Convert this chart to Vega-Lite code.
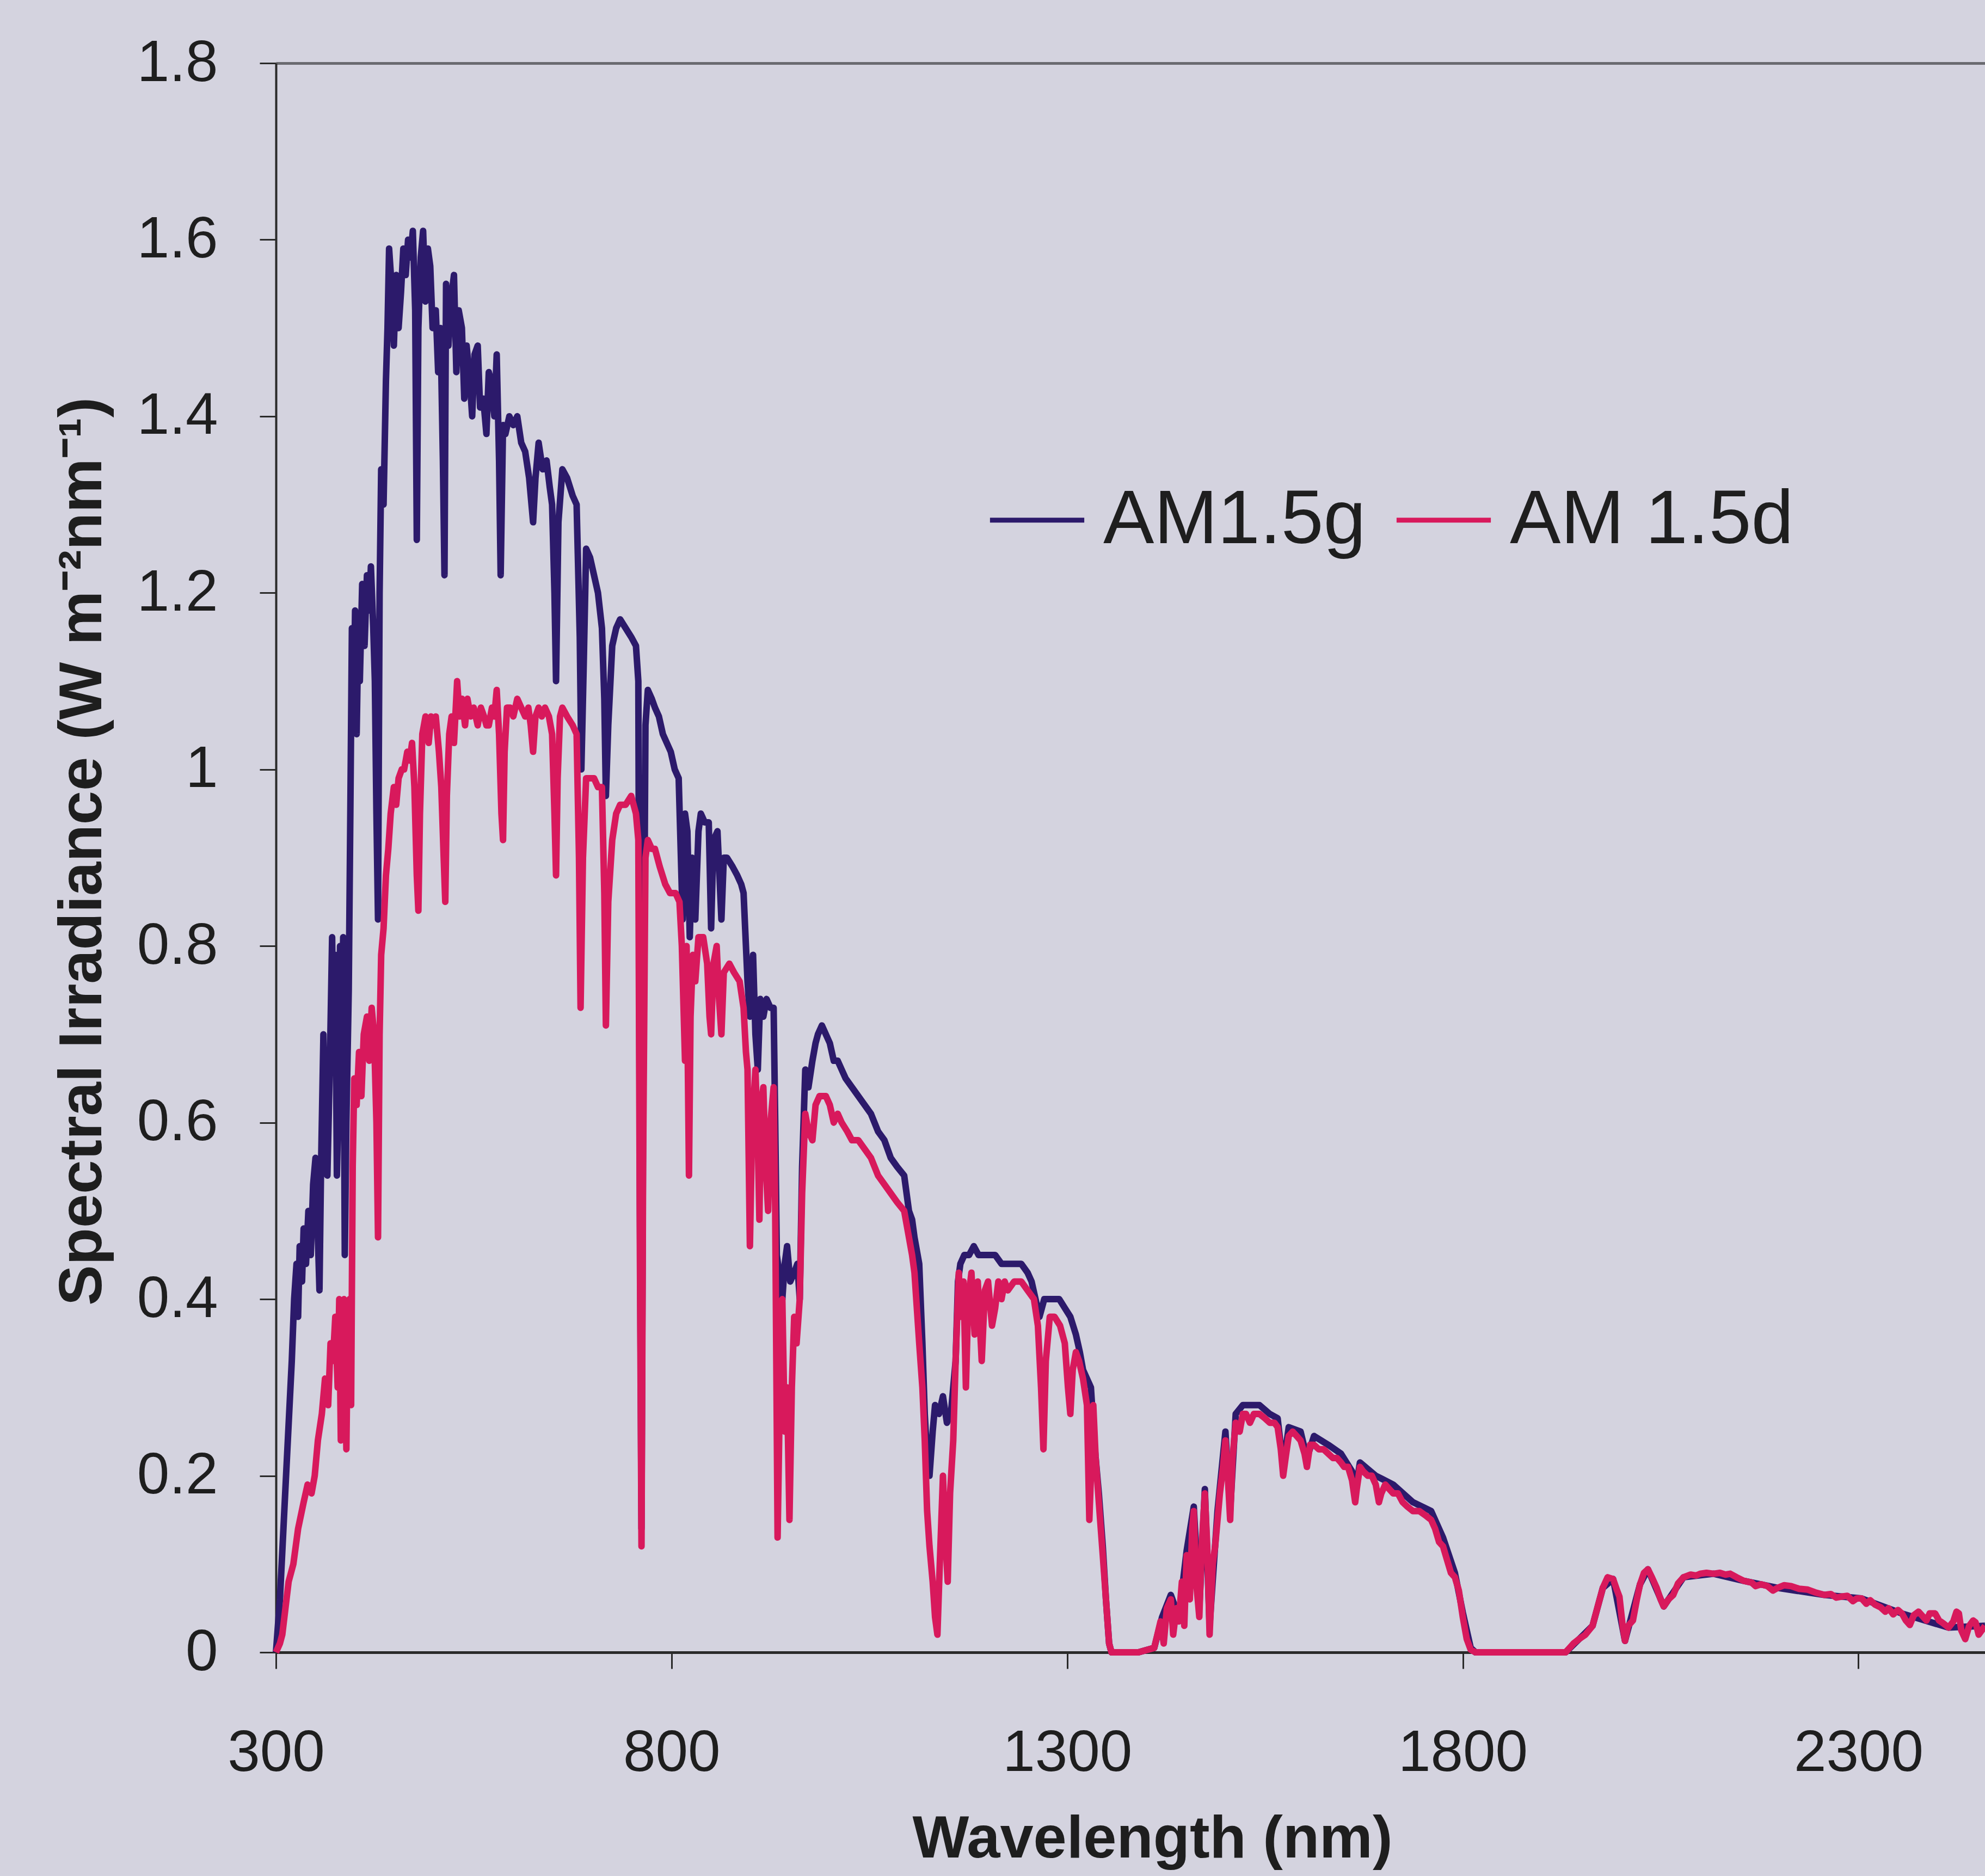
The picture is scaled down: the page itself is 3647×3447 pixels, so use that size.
{
"$schema": "https://vega.github.io/schema/vega-lite/v6.json",
"width": 3140, "height": 2920,
"autosize": {"type": "none"},
"padding": {"left": 507, "top": 116, "right": 0, "bottom": 411},
"background": "#d4d3df",
"config": {"view": {"stroke": null}, "font": "Liberation Sans"},
"datasets": {"g": [
{"wl":300,"irr":0},{"wl":305,"irr":0.06},{"wl":310,"irr":0.15},{"wl":315,"irr":0.24},{"wl":320,"irr":0.33},{"wl":323,"irr":0.40},{"wl":326,"irr":0.44},{"wl":328,"irr":0.38},{"wl":330,"irr":0.46},{"wl":333,"irr":0.42},{"wl":335,"irr":0.48},{"wl":338,"irr":0.44},{"wl":341,"irr":0.50},{"wl":344,"irr":0.45},{"wl":347,"irr":0.53},{"wl":350,"irr":0.56},{"wl":353,"irr":0.47},{"wl":355,"irr":0.41},{"wl":357,"irr":0.55},{"wl":360,"irr":0.70},{"wl":362,"irr":0.58},{"wl":365,"irr":0.54},{"wl":368,"irr":0.66},{"wl":371,"irr":0.81},{"wl":373,"irr":0.66},{"wl":375,"irr":0.79},{"wl":377,"irr":0.54},{"wl":379,"irr":0.62},{"wl":381,"irr":0.80},{"wl":383,"irr":0.70},{"wl":385,"irr":0.81},{"wl":387,"irr":0.45},{"wl":389,"irr":0.60},{"wl":392,"irr":0.75},{"wl":394,"irr":0.95},{"wl":396,"irr":1.16},{"wl":398,"irr":1.05},{"wl":400,"irr":1.18},{"wl":402,"irr":1.04},{"wl":404,"irr":1.15},{"wl":406,"irr":1.10},{"wl":409,"irr":1.21},{"wl":412,"irr":1.14},{"wl":415,"irr":1.22},{"wl":418,"irr":1.18},{"wl":420,"irr":1.23},{"wl":423,"irr":1.16},{"wl":425,"irr":1.10},{"wl":427,"irr":0.95},{"wl":429,"irr":0.83},{"wl":431,"irr":1.20},{"wl":433,"irr":1.34},{"wl":436,"irr":1.30},{"wl":439,"irr":1.44},{"wl":441,"irr":1.50},{"wl":443,"irr":1.59},{"wl":446,"irr":1.55},{"wl":449,"irr":1.48},{"wl":452,"irr":1.56},{"wl":455,"irr":1.50},{"wl":458,"irr":1.54},{"wl":461,"irr":1.59},{"wl":464,"irr":1.56},{"wl":467,"irr":1.60},{"wl":470,"irr":1.58},{"wl":473,"irr":1.61},{"wl":476,"irr":1.52},{"wl":478,"irr":1.26},{"wl":480,"irr":1.50},{"wl":483,"irr":1.58},{"wl":486,"irr":1.61},{"wl":489,"irr":1.53},{"wl":492,"irr":1.59},{"wl":495,"irr":1.57},{"wl":498,"irr":1.50},{"wl":502,"irr":1.52},{"wl":505,"irr":1.45},{"wl":508,"irr":1.50},{"wl":511,"irr":1.35},{"wl":513,"irr":1.22},{"wl":515,"irr":1.55},{"wl":518,"irr":1.48},{"wl":521,"irr":1.53},{"wl":525,"irr":1.56},{"wl":528,"irr":1.45},{"wl":531,"irr":1.52},{"wl":535,"irr":1.50},{"wl":538,"irr":1.42},{"wl":541,"irr":1.48},{"wl":545,"irr":1.44},{"wl":548,"irr":1.40},{"wl":551,"irr":1.47},{"wl":555,"irr":1.48},{"wl":558,"irr":1.41},{"wl":562,"irr":1.42},{"wl":566,"irr":1.38},{"wl":569,"irr":1.45},{"wl":572,"irr":1.44},{"wl":576,"irr":1.40},{"wl":579,"irr":1.47},{"wl":582,"irr":1.35},{"wl":584,"irr":1.22},{"wl":587,"irr":1.39},{"wl":590,"irr":1.38},{"wl":595,"irr":1.40},{"wl":600,"irr":1.39},{"wl":605,"irr":1.40},{"wl":610,"irr":1.37},{"wl":615,"irr":1.36},{"wl":620,"irr":1.33},{"wl":625,"irr":1.28},{"wl":628,"irr":1.33},{"wl":632,"irr":1.37},{"wl":637,"irr":1.34},{"wl":642,"irr":1.35},{"wl":646,"irr":1.32},{"wl":649,"irr":1.30},{"wl":652,"irr":1.20},{"wl":654,"irr":1.10},{"wl":657,"irr":1.28},{"wl":662,"irr":1.34},{"wl":668,"irr":1.33},{"wl":675,"irr":1.31},{"wl":680,"irr":1.30},{"wl":684,"irr":1.15},{"wl":686,"irr":1.00},{"wl":689,"irr":1.12},{"wl":692,"irr":1.25},{"wl":697,"irr":1.24},{"wl":702,"irr":1.22},{"wl":707,"irr":1.20},{"wl":712,"irr":1.16},{"wl":715,"irr":1.08},{"wl":717,"irr":0.97},{"wl":720,"irr":1.05},{"wl":725,"irr":1.14},{"wl":730,"irr":1.16},{"wl":735,"irr":1.17},{"wl":742,"irr":1.16},{"wl":749,"irr":1.15},{"wl":755,"irr":1.14},{"wl":758,"irr":1.10},{"wl":760,"irr":0.50},{"wl":762,"irr":0.14},{"wl":764,"irr":0.60},{"wl":767,"irr":1.05},{"wl":770,"irr":1.09},{"wl":775,"irr":1.08},{"wl":779,"irr":1.07},{"wl":784,"irr":1.06},{"wl":789,"irr":1.04},{"wl":794,"irr":1.03},{"wl":799,"irr":1.02},{"wl":804,"irr":1.00},{"wl":809,"irr":0.99},{"wl":814,"irr":0.83},{"wl":817,"irr":0.95},{"wl":820,"irr":0.93},{"wl":823,"irr":0.81},{"wl":826,"irr":0.90},{"wl":830,"irr":0.83},{"wl":834,"irr":0.93},{"wl":837,"irr":0.95},{"wl":842,"irr":0.94},{"wl":847,"irr":0.94},{"wl":850,"irr":0.82},{"wl":853,"irr":0.92},{"wl":858,"irr":0.93},{"wl":863,"irr":0.83},{"wl":866,"irr":0.90},{"wl":870,"irr":0.90},{"wl":877,"irr":0.89},{"wl":883,"irr":0.88},{"wl":888,"irr":0.87},{"wl":891,"irr":0.86},{"wl":894,"irr":0.80},{"wl":896,"irr":0.76},{"wl":899,"irr":0.72},{"wl":903,"irr":0.79},{"wl":906,"irr":0.70},{"wl":909,"irr":0.66},{"wl":912,"irr":0.74},{"wl":916,"irr":0.72},{"wl":920,"irr":0.74},{"wl":925,"irr":0.73},{"wl":929,"irr":0.73},{"wl":931,"irr":0.60},{"wl":933,"irr":0.45},{"wl":936,"irr":0.43},{"wl":940,"irr":0.40},{"wl":943,"irr":0.44},{"wl":946,"irr":0.46},{"wl":950,"irr":0.42},{"wl":955,"irr":0.43},{"wl":959,"irr":0.44},{"wl":962,"irr":0.40},{"wl":965,"irr":0.55},{"wl":969,"irr":0.66},{"wl":973,"irr":0.64},{"wl":978,"irr":0.67},{"wl":982,"irr":0.69},{"wl":985,"irr":0.70},{"wl":990,"irr":0.71},{"wl":995,"irr":0.70},{"wl":1000,"irr":0.69},{"wl":1005,"irr":0.67},{"wl":1010,"irr":0.67},{"wl":1015,"irr":0.66},{"wl":1020,"irr":0.65},{"wl":1028,"irr":0.64},{"wl":1036,"irr":0.63},{"wl":1044,"irr":0.62},{"wl":1052,"irr":0.61},{"wl":1061,"irr":0.59},{"wl":1069,"irr":0.58},{"wl":1077,"irr":0.56},{"wl":1085,"irr":0.55},{"wl":1094,"irr":0.54},{"wl":1100,"irr":0.50},{"wl":1104,"irr":0.49},{"wl":1107,"irr":0.47},{"wl":1111,"irr":0.45},{"wl":1113,"irr":0.44},{"wl":1117,"irr":0.35},{"wl":1120,"irr":0.27},{"wl":1123,"irr":0.22},{"wl":1126,"irr":0.20},{"wl":1130,"irr":0.25},{"wl":1133,"irr":0.28},{"wl":1138,"irr":0.27},{"wl":1143,"irr":0.29},{"wl":1148,"irr":0.26},{"wl":1153,"irr":0.27},{"wl":1156,"irr":0.30},{"wl":1159,"irr":0.33},{"wl":1162,"irr":0.42},{"wl":1165,"irr":0.44},{"wl":1170,"irr":0.45},{"wl":1176,"irr":0.45},{"wl":1182,"irr":0.46},{"wl":1188,"irr":0.45},{"wl":1192,"irr":0.45},{"wl":1200,"irr":0.45},{"wl":1209,"irr":0.45},{"wl":1217,"irr":0.44},{"wl":1225,"irr":0.44},{"wl":1233,"irr":0.44},{"wl":1242,"irr":0.44},{"wl":1250,"irr":0.43},{"wl":1255,"irr":0.42},{"wl":1260,"irr":0.40},{"wl":1265,"irr":0.38},{"wl":1268,"irr":0.39},{"wl":1271,"irr":0.40},{"wl":1278,"irr":0.40},{"wl":1284,"irr":0.40},{"wl":1290,"irr":0.40},{"wl":1297,"irr":0.39},{"wl":1304,"irr":0.38},{"wl":1311,"irr":0.36},{"wl":1316,"irr":0.34},{"wl":1320,"irr":0.32},{"wl":1325,"irr":0.31},{"wl":1330,"irr":0.30},{"wl":1335,"irr":0.23},{"wl":1340,"irr":0.18},{"wl":1345,"irr":0.12},{"wl":1349,"irr":0.06},{"wl":1353,"irr":0.01},{"wl":1356,"irr":0},{"wl":1390,"irr":0},{"wl":1410,"irr":0.005},{"wl":1420,"irr":0.04},{"wl":1431,"irr":0.065},{"wl":1441,"irr":0.04},{"wl":1451,"irr":0.115},{"wl":1460,"irr":0.165},{"wl":1467,"irr":0.05},{"wl":1474,"irr":0.185},{"wl":1480,"irr":0.03},{"wl":1490,"irr":0.16},{"wl":1500,"irr":0.25},{"wl":1506,"irr":0.16},{"wl":1513,"irr":0.27},{"wl":1522,"irr":0.28},{"wl":1530,"irr":0.28},{"wl":1543,"irr":0.28},{"wl":1556,"irr":0.27},{"wl":1566,"irr":0.265},{"wl":1573,"irr":0.21},{"wl":1580,"irr":0.255},{"wl":1595,"irr":0.25},{"wl":1603,"irr":0.22},{"wl":1612,"irr":0.245},{"wl":1630,"irr":0.235},{"wl":1646,"irr":0.225},{"wl":1660,"irr":0.205},{"wl":1664,"irr":0.18},{"wl":1670,"irr":0.215},{"wl":1690,"irr":0.20},{"wl":1712,"irr":0.19},{"wl":1737,"irr":0.17},{"wl":1760,"irr":0.16},{"wl":1775,"irr":0.13},{"wl":1790,"irr":0.09},{"wl":1800,"irr":0.045},{"wl":1810,"irr":0.005},{"wl":1816,"irr":0},{"wl":1930,"irr":0},{"wl":1947,"irr":0.015},{"wl":1964,"irr":0.03},{"wl":1977,"irr":0.073},{"wl":1990,"irr":0.083},{"wl":2005,"irr":0.013},{"wl":2024,"irr":0.077},{"wl":2034,"irr":0.094},{"wl":2054,"irr":0.052},{"wl":2079,"irr":0.085},{"wl":2117,"irr":0.089},{"wl":2155,"irr":0.081},{"wl":2198,"irr":0.073},{"wl":2257,"irr":0.065},{"wl":2304,"irr":0.061},{"wl":2355,"irr":0.044},{"wl":2414,"irr":0.028},{"wl":2460,"irr":0.03}
],
"d": [
{"wl":300,"irr":0},{"wl":305,"irr":0.01},{"wl":308,"irr":0.02},{"wl":312,"irr":0.05},{"wl":316,"irr":0.08},{"wl":322,"irr":0.10},{"wl":328,"irr":0.14},{"wl":335,"irr":0.17},{"wl":340,"irr":0.19},{"wl":345,"irr":0.18},{"wl":349,"irr":0.20},{"wl":353,"irr":0.24},{"wl":358,"irr":0.27},{"wl":362,"irr":0.31},{"wl":366,"irr":0.28},{"wl":369,"irr":0.35},{"wl":372,"irr":0.33},{"wl":375,"irr":0.38},{"wl":378,"irr":0.30},{"wl":380,"irr":0.40},{"wl":382,"irr":0.24},{"wl":384,"irr":0.36},{"wl":386,"irr":0.40},{"wl":389,"irr":0.23},{"wl":391,"irr":0.38},{"wl":393,"irr":0.40},{"wl":395,"irr":0.28},{"wl":397,"irr":0.55},{"wl":399,"irr":0.65},{"wl":402,"irr":0.62},{"wl":405,"irr":0.68},{"wl":408,"irr":0.63},{"wl":411,"irr":0.70},{"wl":415,"irr":0.72},{"wl":418,"irr":0.67},{"wl":421,"irr":0.73},{"wl":424,"irr":0.70},{"wl":427,"irr":0.60},{"wl":429,"irr":0.47},{"wl":431,"irr":0.70},{"wl":433,"irr":0.79},{"wl":436,"irr":0.82},{"wl":439,"irr":0.88},{"wl":442,"irr":0.91},{"wl":445,"irr":0.95},{"wl":449,"irr":0.98},{"wl":452,"irr":0.96},{"wl":455,"irr":0.99},{"wl":459,"irr":1.00},{"wl":462,"irr":1.00},{"wl":466,"irr":1.02},{"wl":469,"irr":1.01},{"wl":472,"irr":1.03},{"wl":475,"irr":0.98},{"wl":478,"irr":0.88},{"wl":480,"irr":0.84},{"wl":482,"irr":0.95},{"wl":485,"irr":1.04},{"wl":489,"irr":1.06},{"wl":493,"irr":1.03},{"wl":496,"irr":1.06},{"wl":499,"irr":1.05},{"wl":502,"irr":1.06},{"wl":506,"irr":1.02},{"wl":509,"irr":0.98},{"wl":512,"irr":0.90},{"wl":514,"irr":0.85},{"wl":516,"irr":0.97},{"wl":519,"irr":1.04},{"wl":522,"irr":1.06},{"wl":525,"irr":1.03},{"wl":529,"irr":1.10},{"wl":532,"irr":1.06},{"wl":535,"irr":1.08},{"wl":539,"irr":1.05},{"wl":542,"irr":1.08},{"wl":546,"irr":1.06},{"wl":550,"irr":1.07},{"wl":555,"irr":1.05},{"wl":559,"irr":1.07},{"wl":563,"irr":1.06},{"wl":566,"irr":1.05},{"wl":569,"irr":1.05},{"wl":573,"irr":1.07},{"wl":576,"irr":1.06},{"wl":579,"irr":1.09},{"wl":582,"irr":1.04},{"wl":585,"irr":0.95},{"wl":587,"irr":0.92},{"wl":589,"irr":1.02},{"wl":592,"irr":1.07},{"wl":596,"irr":1.07},{"wl":600,"irr":1.06},{"wl":605,"irr":1.08},{"wl":610,"irr":1.07},{"wl":615,"irr":1.06},{"wl":619,"irr":1.07},{"wl":622,"irr":1.05},{"wl":625,"irr":1.02},{"wl":628,"irr":1.06},{"wl":632,"irr":1.07},{"wl":636,"irr":1.06},{"wl":640,"irr":1.07},{"wl":645,"irr":1.06},{"wl":649,"irr":1.04},{"wl":652,"irr":0.95},{"wl":654,"irr":0.88},{"wl":656,"irr":0.99},{"wl":659,"irr":1.06},{"wl":662,"irr":1.07},{"wl":668,"irr":1.06},{"wl":675,"irr":1.05},{"wl":680,"irr":1.04},{"wl":683,"irr":0.90},{"wl":685,"irr":0.73},{"wl":688,"irr":0.90},{"wl":692,"irr":0.99},{"wl":697,"irr":0.99},{"wl":702,"irr":0.99},{"wl":707,"irr":0.98},{"wl":712,"irr":0.98},{"wl":715,"irr":0.86},{"wl":717,"irr":0.71},{"wl":720,"irr":0.85},{"wl":725,"irr":0.92},{"wl":730,"irr":0.95},{"wl":735,"irr":0.96},{"wl":742,"irr":0.96},{"wl":749,"irr":0.97},{"wl":755,"irr":0.95},{"wl":758,"irr":0.92},{"wl":760,"irr":0.45},{"wl":762,"irr":0.12},{"wl":764,"irr":0.55},{"wl":767,"irr":0.90},{"wl":770,"irr":0.92},{"wl":775,"irr":0.91},{"wl":779,"irr":0.91},{"wl":785,"irr":0.89},{"wl":792,"irr":0.87},{"wl":798,"irr":0.86},{"wl":805,"irr":0.86},{"wl":810,"irr":0.85},{"wl":813,"irr":0.80},{"wl":817,"irr":0.67},{"wl":819,"irr":0.80},{"wl":822,"irr":0.54},{"wl":824,"irr":0.72},{"wl":827,"irr":0.79},{"wl":830,"irr":0.76},{"wl":834,"irr":0.81},{"wl":840,"irr":0.81},{"wl":845,"irr":0.78},{"wl":848,"irr":0.72},{"wl":850,"irr":0.70},{"wl":853,"irr":0.78},{"wl":857,"irr":0.80},{"wl":860,"irr":0.74},{"wl":863,"irr":0.70},{"wl":866,"irr":0.77},{"wl":873,"irr":0.78},{"wl":879,"irr":0.77},{"wl":886,"irr":0.76},{"wl":891,"irr":0.73},{"wl":894,"irr":0.68},{"wl":896,"irr":0.66},{"wl":899,"irr":0.46},{"wl":902,"irr":0.60},{"wl":906,"irr":0.66},{"wl":909,"irr":0.58},{"wl":911,"irr":0.49},{"wl":913,"irr":0.62},{"wl":916,"irr":0.64},{"wl":919,"irr":0.55},{"wl":922,"irr":0.50},{"wl":925,"irr":0.60},{"wl":929,"irr":0.64},{"wl":931,"irr":0.50},{"wl":934,"irr":0.13},{"wl":937,"irr":0.30},{"wl":940,"irr":0.40},{"wl":943,"irr":0.25},{"wl":946,"irr":0.30},{"wl":949,"irr":0.15},{"wl":952,"irr":0.30},{"wl":955,"irr":0.38},{"wl":958,"irr":0.35},{"wl":962,"irr":0.40},{"wl":965,"irr":0.52},{"wl":969,"irr":0.61},{"wl":973,"irr":0.59},{"wl":978,"irr":0.58},{"wl":982,"irr":0.62},{"wl":987,"irr":0.63},{"wl":991,"irr":0.63},{"wl":995,"irr":0.63},{"wl":1000,"irr":0.62},{"wl":1005,"irr":0.60},{"wl":1010,"irr":0.61},{"wl":1015,"irr":0.60},{"wl":1022,"irr":0.59},{"wl":1028,"irr":0.58},{"wl":1036,"irr":0.58},{"wl":1044,"irr":0.57},{"wl":1052,"irr":0.56},{"wl":1061,"irr":0.54},{"wl":1069,"irr":0.53},{"wl":1077,"irr":0.52},{"wl":1085,"irr":0.51},{"wl":1094,"irr":0.50},{"wl":1100,"irr":0.47},{"wl":1104,"irr":0.45},{"wl":1107,"irr":0.43},{"wl":1110,"irr":0.39},{"wl":1113,"irr":0.35},{"wl":1117,"irr":0.30},{"wl":1120,"irr":0.24},{"wl":1123,"irr":0.16},{"wl":1126,"irr":0.12},{"wl":1130,"irr":0.08},{"wl":1133,"irr":0.04},{"wl":1136,"irr":0.02},{"wl":1139,"irr":0.10},{"wl":1143,"irr":0.20},{"wl":1146,"irr":0.13},{"wl":1149,"irr":0.08},{"wl":1152,"irr":0.18},{"wl":1156,"irr":0.24},{"wl":1159,"irr":0.33},{"wl":1163,"irr":0.43},{"wl":1166,"irr":0.38},{"wl":1169,"irr":0.42},{"wl":1172,"irr":0.30},{"wl":1175,"irr":0.40},{"wl":1179,"irr":0.43},{"wl":1183,"irr":0.36},{"wl":1187,"irr":0.42},{"wl":1192,"irr":0.33},{"wl":1196,"irr":0.41},{"wl":1200,"irr":0.42},{"wl":1205,"irr":0.37},{"wl":1209,"irr":0.39},{"wl":1213,"irr":0.42},{"wl":1217,"irr":0.40},{"wl":1221,"irr":0.42},{"wl":1225,"irr":0.41},{"wl":1233,"irr":0.42},{"wl":1242,"irr":0.42},{"wl":1250,"irr":0.41},{"wl":1258,"irr":0.40},{"wl":1263,"irr":0.37},{"wl":1267,"irr":0.30},{"wl":1270,"irr":0.23},{"wl":1273,"irr":0.33},{"wl":1278,"irr":0.38},{"wl":1284,"irr":0.38},{"wl":1291,"irr":0.37},{"wl":1297,"irr":0.35},{"wl":1301,"irr":0.30},{"wl":1304,"irr":0.27},{"wl":1307,"irr":0.32},{"wl":1311,"irr":0.34},{"wl":1315,"irr":0.33},{"wl":1320,"irr":0.31},{"wl":1325,"irr":0.28},{"wl":1328,"irr":0.15},{"wl":1330,"irr":0.20},{"wl":1333,"irr":0.28},{"wl":1336,"irr":0.22},{"wl":1340,"irr":0.17},{"wl":1345,"irr":0.11},{"wl":1349,"irr":0.06},{"wl":1353,"irr":0.01},{"wl":1356,"irr":0},{"wl":1390,"irr":0},{"wl":1410,"irr":0.005},{"wl":1414,"irr":0.02},{"wl":1418,"irr":0.035},{"wl":1422,"irr":0.01},{"wl":1426,"irr":0.05},{"wl":1431,"irr":0.06},{"wl":1434,"irr":0.02},{"wl":1438,"irr":0.05},{"wl":1441,"irr":0.035},{"wl":1445,"irr":0.08},{"wl":1448,"irr":0.03},{"wl":1451,"irr":0.11},{"wl":1455,"irr":0.06},{"wl":1458,"irr":0.14},{"wl":1460,"irr":0.16},{"wl":1463,"irr":0.08},{"wl":1467,"irr":0.04},{"wl":1470,"irr":0.12},{"wl":1474,"irr":0.18},{"wl":1477,"irr":0.12},{"wl":1480,"irr":0.02},{"wl":1484,"irr":0.10},{"wl":1487,"irr":0.12},{"wl":1490,"irr":0.15},{"wl":1493,"irr":0.18},{"wl":1497,"irr":0.21},{"wl":1500,"irr":0.24},{"wl":1503,"irr":0.20},{"wl":1506,"irr":0.15},{"wl":1509,"irr":0.22},{"wl":1513,"irr":0.26},{"wl":1518,"irr":0.25},{"wl":1522,"irr":0.27},{"wl":1526,"irr":0.27},{"wl":1531,"irr":0.26},{"wl":1536,"irr":0.27},{"wl":1543,"irr":0.27},{"wl":1550,"irr":0.265},{"wl":1556,"irr":0.26},{"wl":1562,"irr":0.26},{"wl":1566,"irr":0.255},{"wl":1570,"irr":0.23},{"wl":1573,"irr":0.20},{"wl":1576,"irr":0.22},{"wl":1580,"irr":0.245},{"wl":1585,"irr":0.25},{"wl":1590,"irr":0.245},{"wl":1595,"irr":0.24},{"wl":1600,"irr":0.225},{"wl":1603,"irr":0.21},{"wl":1607,"irr":0.235},{"wl":1612,"irr":0.235},{"wl":1618,"irr":0.23},{"wl":1624,"irr":0.23},{"wl":1630,"irr":0.225},{"wl":1636,"irr":0.22},{"wl":1641,"irr":0.22},{"wl":1646,"irr":0.215},{"wl":1650,"irr":0.21},{"wl":1655,"irr":0.21},{"wl":1660,"irr":0.195},{"wl":1664,"irr":0.17},{"wl":1666,"irr":0.185},{"wl":1670,"irr":0.21},{"wl":1674,"irr":0.205},{"wl":1680,"irr":0.20},{"wl":1685,"irr":0.20},{"wl":1690,"irr":0.19},{"wl":1694,"irr":0.17},{"wl":1697,"irr":0.18},{"wl":1702,"irr":0.19},{"wl":1707,"irr":0.185},{"wl":1712,"irr":0.18},{"wl":1718,"irr":0.18},{"wl":1724,"irr":0.17},{"wl":1730,"irr":0.165},{"wl":1737,"irr":0.16},{"wl":1745,"irr":0.16},{"wl":1753,"irr":0.155},{"wl":1760,"irr":0.15},{"wl":1765,"irr":0.14},{"wl":1770,"irr":0.125},{"wl":1775,"irr":0.12},{"wl":1780,"irr":0.105},{"wl":1785,"irr":0.09},{"wl":1790,"irr":0.085},{"wl":1795,"irr":0.07},{"wl":1800,"irr":0.04},{"wl":1805,"irr":0.015},{"wl":1810,"irr":0.003},{"wl":1816,"irr":0},{"wl":1930,"irr":0},{"wl":1940,"irr":0.01},{"wl":1947,"irr":0.015},{"wl":1955,"irr":0.02},{"wl":1964,"irr":0.03},{"wl":1970,"irr":0.05},{"wl":1977,"irr":0.073},{"wl":1983,"irr":0.085},{"wl":1990,"irr":0.083},{"wl":1995,"irr":0.07},{"wl":1998,"irr":0.063},{"wl":2002,"irr":0.03},{"wl":2005,"irr":0.013},{"wl":2009,"irr":0.03},{"wl":2015,"irr":0.036},{"wl":2020,"irr":0.06},{"wl":2024,"irr":0.077},{"wl":2029,"irr":0.09},{"wl":2034,"irr":0.094},{"wl":2039,"irr":0.085},{"wl":2045,"irr":0.073},{"wl":2050,"irr":0.06},{"wl":2054,"irr":0.052},{"wl":2060,"irr":0.06},{"wl":2066,"irr":0.065},{"wl":2072,"irr":0.078},{"wl":2079,"irr":0.085},{"wl":2088,"irr":0.088},{"wl":2095,"irr":0.087},{"wl":2100,"irr":0.089},{"wl":2108,"irr":0.09},{"wl":2117,"irr":0.089},{"wl":2125,"irr":0.09},{"wl":2132,"irr":0.088},{"wl":2138,"irr":0.089},{"wl":2146,"irr":0.085},{"wl":2155,"irr":0.081},{"wl":2165,"irr":0.079},{"wl":2170,"irr":0.075},{"wl":2177,"irr":0.077},{"wl":2185,"irr":0.075},{"wl":2192,"irr":0.07},{"wl":2198,"irr":0.073},{"wl":2206,"irr":0.076},{"wl":2215,"irr":0.075},{"wl":2225,"irr":0.072},{"wl":2236,"irr":0.071},{"wl":2245,"irr":0.068},{"wl":2257,"irr":0.065},{"wl":2265,"irr":0.066},{"wl":2272,"irr":0.062},{"wl":2278,"irr":0.063},{"wl":2286,"irr":0.064},{"wl":2293,"irr":0.058},{"wl":2298,"irr":0.061},{"wl":2304,"irr":0.061},{"wl":2310,"irr":0.055},{"wl":2315,"irr":0.059},{"wl":2321,"irr":0.054},{"wl":2328,"irr":0.051},{"wl":2334,"irr":0.046},{"wl":2338,"irr":0.05},{"wl":2344,"irr":0.043},{"wl":2350,"irr":0.048},{"wl":2355,"irr":0.044},{"wl":2360,"irr":0.036},{"wl":2365,"irr":0.031},{"wl":2370,"irr":0.042},{"wl":2376,"irr":0.046},{"wl":2380,"irr":0.042},{"wl":2386,"irr":0.036},{"wl":2390,"irr":0.044},{"wl":2397,"irr":0.044},{"wl":2402,"irr":0.036},{"wl":2407,"irr":0.033},{"wl":2414,"irr":0.028},{"wl":2420,"irr":0.035},{"wl":2424,"irr":0.046},{"wl":2427,"irr":0.044},{"wl":2430,"irr":0.025},{"wl":2435,"irr":0.015},{"wl":2440,"irr":0.03},{"wl":2445,"irr":0.036},{"wl":2448,"irr":0.034},{"wl":2452,"irr":0.02},{"wl":2456,"irr":0.025},{"wl":2460,"irr":0.03}
]},
"encoding": {
  "x": {"field": "wl", "type": "quantitative",
    "scale": {"domain": [300, 2460], "nice": false, "zero": false},
    "axis": {"values": [300, 800, 1300, 1800, 2300], "format": "d", "title": "Wavelength (nm)",
      "domainColor": "#2a2a2a", "domainWidth": 5, "tickColor": "#2a2a2a", "tickWidth": 3, "tickSize": 30,
      "labelFontSize": 107, "labelColor": "#1e1e1e", "labelPadding": 102, "labelFont": "Liberation Sans",
      "labelFlush": false, "labelLimit": 1000, "labelOverlap": false,
      "titleFontSize": 110, "titleFontWeight": "bold", "titleColor": "#1e1e1e", "titleFont": "Liberation Sans",
      "titleX": 1610, "titleY": 376, "titleBaseline": "alphabetic", "titleAlign": "center", "grid": false}},
  "y": {"field": "irr", "type": "quantitative",
    "scale": {"domain": [0, 1.8], "nice": false},
    "axis": {"values": [0, 0.2, 0.4, 0.6, 0.8, 1, 1.2, 1.4, 1.6, 1.8], "format": "~g",
      "title": "Spectral Irradiance (W m⁻²nm⁻¹)",
      "domainColor": "#2a2a2a", "domainWidth": 4, "tickColor": "#2a2a2a", "tickWidth": 3, "tickSize": 30,
      "labelFontSize": 107, "labelColor": "#1e1e1e", "labelPadding": 77, "labelFont": "Liberation Sans",
      "labelFlush": false, "labelOverlap": false,
      "titleFontSize": 112, "titleFontWeight": "bold", "titleColor": "#1e1e1e", "titleFont": "Liberation Sans",
      "titleX": -322, "titleY": 1448, "titleBaseline": "alphabetic", "titleAlign": "center", "titleAngle": -90, "titleLimit": 3000,
      "grid": true, "gridColor": "#6a6a70", "gridWidth": 5,
      "gridOpacity": {"condition": {"test": "datum.value === 1.8", "value": 1}, "value": 0}}},
  "color": {"type": "nominal",
    "scale": {"domain": ["AM1.5g", "AM 1.5d"], "range": ["#2c1a6b", "#d8195c"]},
    "legend": {"title": null, "orient": "none", "direction": "horizontal", "legendX": 1307, "legendY": 748,
      "symbolType": "stroke", "symbolSize": 30000, "symbolStrokeWidth": 9,
      "labelFontSize": 140, "labelFont": "Liberation Sans", "labelColor": "#1e1e1e", "labelOffset": 30,
      "columnPadding": 37, "labelLimit": 1000}}
},
"layer": [
  {"data": {"name": "g"}, "mark": {"type": "line", "strokeWidth": 12, "strokeJoin": "round"}, "encoding": {"color": {"datum": "AM1.5g"}}},
  {"data": {"name": "d"}, "mark": {"type": "line", "strokeWidth": 12, "strokeJoin": "round"}, "encoding": {"color": {"datum": "AM 1.5d"}}}
]
}
